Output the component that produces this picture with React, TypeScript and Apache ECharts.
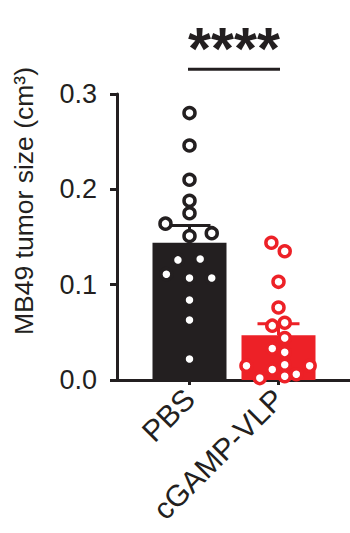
import React, { useEffect, useRef } from "react";
import * as echarts from "echarts";

const categories = ["PBS", "cGAMP-VLP"];
const pbsValues = [0.280, 0.246, 0.210, 0.188, 0.175, 0.164, 0.154, 0.151, 0.126, 0.127, 0.111, 0.107, 0.107, 0.084, 0.063, 0.022];
const pbsJitter = [0, 0, 0, 0, 0, -0.27, 0.25, 0, -0.13, 0.12, -0.26, 0, 0.25, 0, 0, 0];
const vlpValues = [0.144, 0.135, 0.103, 0.076, 0.057, 0.060, 0.044, 0.033, 0.029, 0.015, 0.011, 0.016, 0.015, 0.002, 0.004, 0.006];
const vlpJitter = [-0.08, 0.07, 0, 0, -0.07, 0.07, 0.07, -0.07, 0.07, -0.36, -0.07, 0.07, 0.35, -0.21, 0.07, 0.2];
const means = [0.144, 0.047];
const sems = [0.018, 0.012];
const yTicks = [0, 0.1, 0.2, 0.3];
const significance = { from: 0, to: 1, y: 0.326, label: "****" };
const yTitle = "MB49 tumor size (cm³)";

const BLACK = "#231f20";
const RED = "#ed2127";
const colors = [BLACK, RED];
const FONT = "Liberation Sans, Arial, sans-serif";

export default function App() {
  const ref = useRef<HTMLDivElement>(null);
  useEffect(() => {
    if (!ref.current) return;
    const chart = echarts.init(ref.current, null, { renderer: "svg" });
    const grid0 = { left: 117, width: 233, top: 94, height: 286 };
    const grid1 = { left: 145, width: 178, top: 94, height: 286 };
    chart.setOption({
      animation: false,
      backgroundColor: "#ffffff",
      grid: [grid0, grid1],
      xAxis: [
        {
          gridIndex: 0, type: "value", min: 0, max: 1,
          axisLine: { show: true, lineStyle: { color: BLACK, width: 3 } },
          axisTick: { show: false }, axisLabel: { show: false }, splitLine: { show: false },
        },
        {
          gridIndex: 1, type: "category", data: categories,
          axisLine: { show: false },
          axisTick: { show: true, alignWithLabel: true, length: 5, lineStyle: { color: BLACK, width: 3 } },
          axisLabel: { rotate: 45, margin: 14, fontSize: 30, fontFamily: FONT, color: BLACK },
          splitLine: { show: false },
        },
        { gridIndex: 1, type: "value", min: -0.5, max: 1.5, show: false },
      ],
      yAxis: [
        {
          gridIndex: 0, type: "value", min: yTicks[0], max: yTicks[yTicks.length - 1], interval: 0.1,
          axisLine: { show: true, lineStyle: { color: BLACK, width: 3 } },
          axisTick: { show: true, length: 7, lineStyle: { color: BLACK, width: 3 } },
          axisLabel: { margin: 20, fontSize: 27, fontFamily: FONT, color: BLACK, formatter: (v: number) => v.toFixed(1) },
          splitLine: { show: false },
        },
        { gridIndex: 1, type: "value", min: 0, max: 0.3, show: false },
      ],
      graphic: [
        {
          type: "text", x: 24, y: 201, rotation: Math.PI / 2,
          style: { text: yTitle, font: `26.5px ${FONT}`, fill: BLACK, textAlign: "center", textVerticalAlign: "middle" },
        },
      ],
      series: [
        {
          type: "bar", xAxisIndex: 1, yAxisIndex: 1, barWidth: 74, z: 2,
          data: means.map((m, i) => ({ value: m, itemStyle: { color: colors[i] } })),
        },
        {
          type: "custom", xAxisIndex: 1, yAxisIndex: 1, z: 3,
          data: means.map((m, i) => [i, m, sems[i]]),
          encode: { x: 0, y: 1 },
          renderItem: (params: any, api: any) => {
            const i = api.value(0), m = api.value(1), s = api.value(2);
            const p0 = api.coord([i, m]);
            const p1 = api.coord([i, m + s]);
            const c = colors[i];
            return {
              type: "group",
              children: [
                { type: "line", shape: { x1: p0[0], y1: p0[1], x2: p1[0], y2: p1[1] }, style: { stroke: c, lineWidth: 3 } },
                { type: "line", shape: { x1: p1[0] - 21, y1: p1[1], x2: p1[0] + 21, y2: p1[1] }, style: { stroke: c, lineWidth: 3 } },
              ],
            };
          },
        },
        {
          type: "scatter", xAxisIndex: 2, yAxisIndex: 1, z: 4, clip: false,
          symbol: "circle", symbolSize: 11,
          itemStyle: { color: "#ffffff", borderColor: BLACK, borderWidth: 3.5, opacity: 1 },
          data: pbsValues.map((v, k) => [0 + pbsJitter[k], v]),
        },
        {
          type: "scatter", xAxisIndex: 2, yAxisIndex: 1, z: 4, clip: false,
          symbol: "circle", symbolSize: 11,
          itemStyle: { color: "#ffffff", borderColor: RED, borderWidth: 3.5, opacity: 1 },
          data: vlpValues.map((v, k) => [1 + vlpJitter[k], v]),
        },
        {
          type: "custom", xAxisIndex: 1, yAxisIndex: 1, z: 5, clip: false,
          data: [[significance.from, significance.to, significance.y]],
          encode: { x: 0, y: 2 },
          renderItem: (params: any, api: any) => {
            const a = api.coord([api.value(0), api.value(2)]);
            const b = api.coord([api.value(1), api.value(2)]);
            return {
              type: "group",
              children: [
                { type: "line", shape: { x1: a[0] - 1.5, y1: a[1], x2: b[0] + 1.5, y2: b[1] }, style: { stroke: BLACK, lineWidth: 3 } },
                {
                  type: "text", x: (a[0] + b[0]) / 2, y: a[1] - 20,
                  style: { text: significance.label, font: `bold 59px ${FONT}`, fill: BLACK, textAlign: "center", textVerticalAlign: "middle" },
                },
              ],
            };
          },
        },
      ],
    });
    return () => chart.dispose();
  }, []);
  return <div ref={ref} style={{ position: "fixed", left: 0, top: 0, width: 350, height: 533 }} />;
}
